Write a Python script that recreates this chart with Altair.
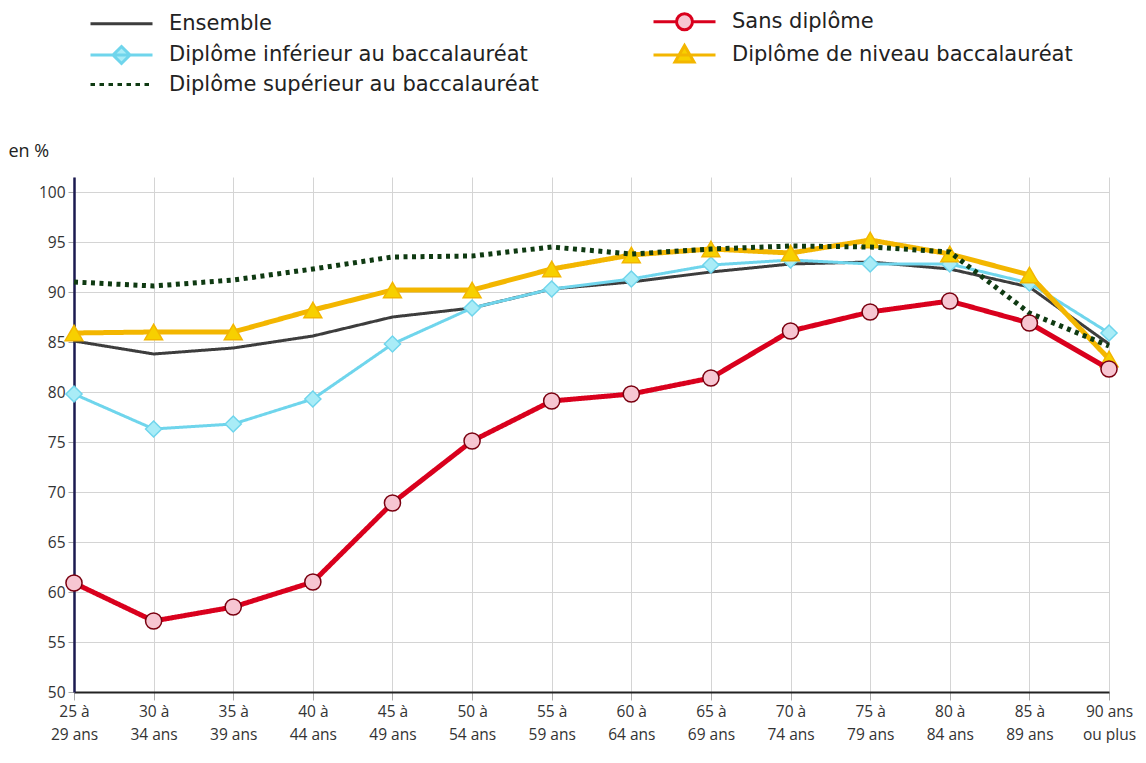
import altair as alt
import pandas as pd

# ---- data ----
categories = ["25 à\n29 ans", "30 à\n34 ans", "35 à\n39 ans", "40 à\n44 ans", "45 à\n49 ans",
              "50 à\n54 ans", "55 à\n59 ans", "60 à\n64 ans", "65 à\n69 ans", "70 à\n74 ans",
              "75 à\n79 ans", "80 à\n84 ans", "85 à\n89 ans", "90 ans\nou plus"]
ensemble = [85.1, 83.8, 84.4, 85.6, 87.5, 88.4, 90.3, 91.0, 92.0, 92.8, 93.0, 92.3, 90.5, 84.8]
sans_diplome = [60.9, 57.1, 58.5, 61.0, 68.9, 75.1, 79.1, 79.8, 81.4, 86.1, 88.0, 89.1, 86.9, 82.3]
inferieur_bac = [79.8, 76.3, 76.8, 79.3, 84.8, 88.4, 90.3, 91.3, 92.7, 93.2, 92.8, 92.8, 90.9, 85.9]
niveau_bac = [85.9, 86.0, 86.0, 88.2, 90.2, 90.2, 92.3, 93.7, 94.3, 93.9, 95.2, 93.8, 91.7, 83.3]
superieur_bac = [91.0, 90.6, 91.2, 92.3, 93.5, 93.6, 94.5, 93.8, 94.3, 94.6, 94.5, 94.0, 87.9, 84.6]

series_names = ["Ensemble", "Sans diplôme", "Diplôme inférieur au baccalauréat",
                "Diplôme de niveau baccalauréat", "Diplôme supérieur au baccalauréat"]
series_values = [ensemble, sans_diplome, inferieur_bac, niveau_bac, superieur_bac]

rows = []
for name, vals in zip(series_names, series_values):
    for cat, v in zip(categories, vals):
        rows.append({"age": cat, "serie": name, "valeur": v})
df = pd.DataFrame(rows)

# legend order (filled column by column: 3 rows x 2 columns)
legend_order = ["Ensemble", "Diplôme inférieur au baccalauréat", "Diplôme supérieur au baccalauréat",
                "Sans diplôme", "Diplôme de niveau baccalauréat"]

# ---- styles ----
line_color = {
    "Ensemble": "#3d3d3d",
    "Sans diplôme": "#d9001d",
    "Diplôme inférieur au baccalauréat": "#6fd5ec",
    "Diplôme de niveau baccalauréat": "#f3b600",
    "Diplôme supérieur au baccalauréat": "#0f3a12",
}
line_width = {
    "Ensemble": 3,
    "Sans diplôme": 5,
    "Diplôme inférieur au baccalauréat": 3,
    "Diplôme de niveau baccalauréat": 5,
    "Diplôme supérieur au baccalauréat": 5,
}
marker_fill = {
    "Ensemble": "transparent",
    "Sans diplôme": "#f7c6d2",
    "Diplôme inférieur au baccalauréat": "#a9ecf7",
    "Diplôme de niveau baccalauréat": "#f7d000",
    "Diplôme supérieur au baccalauréat": "transparent",
}
marker_stroke = {
    "Ensemble": "#3d3d3d",
    "Sans diplôme": "#7a0010",
    "Diplôme inférieur au baccalauréat": "#6fd5ec",
    "Diplôme de niveau baccalauréat": "#f3b600",
    "Diplôme supérieur au baccalauréat": "#0f3a12",
}
dots = " ".join("M%.2f,0H%.2f" % (-3.1 + i * 0.9, -3.1 + i * 0.9 + 0.45) for i in range(7))
legend_shape = {
    "Ensemble": "M-3.1,0H3.1",
    "Sans diplôme": "M-3.1,0H-0.8 M0.8,0H3.1 M0.8,0 A0.8,0.8 0 1,1 -0.8,0 A0.8,0.8 0 1,1 0.8,0",
    "Diplôme inférieur au baccalauréat": "M-3.1,0H3.1 M0,-0.85L0.85,0L0,0.85L-0.85,0Z",
    "Diplôme de niveau baccalauréat": "M-3.1,0H3.1 M0,-0.95L0.95,0.7L-0.95,0.7Z",
    "Diplôme supérieur au baccalauréat": dots,
}

FONT = "Open Sans"
LEGEND_FONT = "DejaVu Sans"

x_enc = alt.X("age:N", sort=categories, scale=alt.Scale(padding=0),
              axis=alt.Axis(title=None, labelExpr="split(datum.label, '\\n')", labelAngle=0,
                            labelFontSize=15.5, labelLineHeight=23, labelColor="#333333",
                            labelFont=FONT, labelPadding=4, tickSize=8, tickColor="#aaaaaa",
                            domainColor="#222222", domainWidth=2, grid=True,
                            gridColor="#d4d4d4", labelBaseline="top"))
y_enc = alt.Y("valeur:Q", scale=alt.Scale(domain=[50, 101.5], nice=False, zero=False),
              axis=alt.Axis(title="en %", titleAngle=0, titleAlign="left", titleX=-66,
                            titleY=-17, titleBaseline="bottom", titleFontSize=18,
                            titleFontWeight="normal", titleFont=FONT, titleColor="#222222",
                            values=list(range(50, 101, 5)), labelFontSize=15.5,
                            labelColor="#333333", labelFont=FONT, tickSize=6,
                            tickColor="#aaaaaa", labelPadding=3, domainColor="#1b1a50",
                            domainWidth=2.5, gridColor="#d4d4d4"))

base = alt.Chart(df)

draw_order = ["Ensemble", "Diplôme inférieur au baccalauréat", "Diplôme de niveau baccalauréat",
              "Diplôme supérieur au baccalauréat", "Sans diplôme"]
marker_shape = {
    "Sans diplôme": ("circle", 260),
    "Diplôme inférieur au baccalauréat": ("diamond", 260),
    "Diplôme de niveau baccalauréat": ("triangle-up", 320),
}

layers = []
for name in draw_order:
    dash = [4, 4.5] if name == "Diplôme supérieur au baccalauréat" else [1, 0]
    layers.append(
        base.transform_filter(alt.datum.serie == name)
        .mark_line(color=line_color[name], strokeWidth=line_width[name], strokeDash=dash)
        .encode(x=x_enc, y=y_enc)
    )
    if name in marker_shape:
        shp, sz = marker_shape[name]
        layers.append(
            base.transform_filter(alt.datum.serie == name)
            .mark_point(shape=shp, size=sz, filled=True, fill=marker_fill[name],
                        stroke=marker_stroke[name], strokeWidth=1.5, opacity=1)
            .encode(x=x_enc, y=y_enc)
        )

leg = alt.Legend(
    title=None, orient="none", legendX=34, legendY=-169, columns=2, symbolSize=400,
    labelFontSize=21, labelFont=LEGEND_FONT, labelColor="#222222", labelLimit=600,
    labelOffset=36, columnPadding=108, rowPadding=3.5, padding=2, symbolOpacity=1,
)

legend_layer = base.transform_filter("datum.valeur > 1000").mark_point(
    size=400, filled=True, opacity=1
).encode(
    x=x_enc, y=y_enc,
    fill=alt.Fill("serie:N", scale=alt.Scale(domain=legend_order,
                                             range=[marker_fill[s] for s in legend_order]),
                  legend=leg),
    stroke=alt.Stroke("serie:N", scale=alt.Scale(domain=legend_order,
                                                 range=[line_color[s] for s in legend_order]),
                      legend=leg),
    shape=alt.Shape("serie:N", scale=alt.Scale(domain=legend_order,
                                               range=[legend_shape[s] for s in legend_order]),
                    legend=leg),
    strokeWidth=alt.StrokeWidth("serie:N", scale=alt.Scale(domain=legend_order,
                                                            range=[line_width[s] for s in legend_order]),
                                legend=leg),
)

chart = alt.layer(*layers, legend_layer).properties(
    width=1035, height=515, background="white", padding=0
).configure_view(stroke=None)

chart.save("out.html", embed_options={"renderer": "svg", "actions": False})
